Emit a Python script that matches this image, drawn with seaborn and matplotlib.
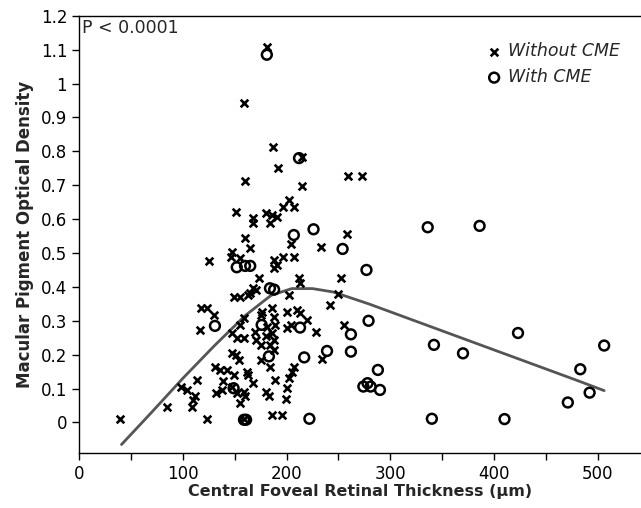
import numpy as np
import pandas as pd
import matplotlib
matplotlib.use("Agg")
import matplotlib.pyplot as plt
from matplotlib.ticker import MultipleLocator, FormatStrFormatter
import seaborn as sns

# pontos sem CME (x = espessura, y = densidade optica)
semX = [181, 159, 187, 215, 192, 259, 273, 160, 215, 202, 197, 207, 151, 168, 168,
        180, 186, 184, 191, 258, 160, 204, 233, 165, 147, 146, 155, 125, 188, 191,
        188, 197, 207, 173, 212, 252, 213, 168, 163, 202, 250, 149, 155, 165, 171,
        242, 118, 123, 130, 117, 159, 155, 175, 176, 186, 188, 189, 181, 210, 213,
        220, 228, 200, 200, 204, 255, 147, 152, 159, 170, 171, 180, 186, 188, 175,
        184, 188, 147, 151, 154, 175, 184, 131, 136, 143, 149, 162, 163, 189, 114,
        98, 104, 112, 110, 139, 138, 147, 152, 159, 160, 132, 168, 180, 183, 155,
        85, 109, 40, 123, 159, 186, 196, 234, 207, 205, 202, 200, 199]
semY = [1.107, 0.943, 0.812, 0.782, 0.750, 0.727, 0.727, 0.712, 0.698, 0.657, 0.637, 0.635, 0.622, 0.603, 0.588,
        0.617, 0.612, 0.588, 0.607, 0.555, 0.544, 0.526, 0.519, 0.516, 0.504, 0.489, 0.485, 0.477, 0.480, 0.465,
        0.455, 0.489, 0.489, 0.426, 0.426, 0.426, 0.411, 0.396, 0.376, 0.376, 0.379, 0.369, 0.369, 0.381, 0.391,
        0.347, 0.337, 0.337, 0.317, 0.273, 0.308, 0.288, 0.317, 0.327, 0.337, 0.312, 0.288, 0.283, 0.332, 0.322,
        0.303, 0.268, 0.327, 0.278, 0.288, 0.288, 0.264, 0.249, 0.249, 0.268, 0.244, 0.254, 0.264, 0.244, 0.229,
        0.229, 0.214, 0.205, 0.200, 0.185, 0.185, 0.165, 0.165, 0.155, 0.155, 0.141, 0.150, 0.141, 0.126, 0.126,
        0.106, 0.096, 0.077, 0.067, 0.121, 0.096, 0.106, 0.087, 0.091, 0.077, 0.087, 0.116, 0.091, 0.077, 0.057,
        0.047, 0.045, 0.010, 0.010, 0.010, 0.023, 0.021, 0.187, 0.165, 0.150, 0.131, 0.101, 0.069]

# pontos com CME
comX = [181, 212, 336, 386, 226, 207, 254, 152, 160, 165, 277, 184, 188, 279, 131,
        176, 213, 262, 423, 342, 506, 239, 262, 370, 217, 183, 288, 483, 149, 274,
        278, 281, 290, 492, 471, 159, 161, 222, 340, 410]
comY = [1.085, 0.780, 0.576, 0.580, 0.570, 0.553, 0.512, 0.458, 0.462, 0.462, 0.450, 0.396, 0.392, 0.300, 0.285,
        0.288, 0.280, 0.260, 0.264, 0.229, 0.227, 0.211, 0.209, 0.204, 0.192, 0.195, 0.155, 0.157, 0.101, 0.106,
        0.116, 0.106, 0.096, 0.088, 0.059, 0.008, 0.008, 0.011, 0.011, 0.010]

# curva ajustada (lowess)
fitX = [41, 70, 100, 130, 160, 185, 205, 225, 245, 280, 320, 360, 400, 440, 480, 506]
fitY = [-0.065, 0.03, 0.13, 0.225, 0.315, 0.375, 0.395, 0.395, 0.385, 0.349, 0.304, 0.259, 0.214, 0.169, 0.124, 0.094]

sns.set_style("ticks")
plt.rcParams['font.family'] = ['DejaVu Sans']

fig = plt.figure(figsize=(6.41, 5.08), dpi=100)
ax = fig.add_axes([0.1232, 0.1083, 0.8768, 0.8607])

sns.lineplot(x=fitX, y=fitY, ax=ax, color='#555555', linewidth=2, sort=False, zorder=1)
sns.scatterplot(x=semX, y=semY, ax=ax, marker='x', s=30, color='black', linewidth=1.9,
                label='Without CME', zorder=3)
sns.scatterplot(x=comX, y=comY, ax=ax, marker='o', s=50, facecolor='none', edgecolor='black',
                linewidth=1.8, label='With CME', zorder=2)

ax.set_xlim(0, 541.5)
ax.set_ylim(-0.09, 1.2)
ax.xaxis.set_major_locator(MultipleLocator(100))
ax.xaxis.set_minor_locator(MultipleLocator(50))
ax.set_yticks(np.round(np.arange(0, 1.21, 0.1), 1))
ax.yaxis.set_major_formatter(FormatStrFormatter('%g'))
ax.tick_params(axis='both', which='both', direction='out', length=5, width=1, colors='black',
               labelsize=12)
for s in ['left', 'bottom', 'top']:
    ax.spines[s].set_color('black')
    ax.spines[s].set_linewidth(1)
ax.spines['right'].set_visible(False)
ax.spines['top'].set_visible(True)

ax.set_xlabel('Central Foveal Retinal Thickness (µm)', fontsize=11.5, fontweight='bold', labelpad=1)
ax.set_ylabel('Macular Pigment Optical Density', fontsize=12, fontweight='bold', labelpad=5)

ax.text(0.006, 0.993, 'P < 0.0001', transform=ax.transAxes, ha='left', va='top', fontsize=12.5)

leg = ax.legend(loc='upper right', bbox_to_anchor=(0.975, 0.955), frameon=False,
                prop={'style': 'italic', 'size': 12.5}, handletextpad=0.2, labelspacing=0.45,
                borderaxespad=0.0, handlelength=1.2)

fig.savefig('out.png', dpi=100)
